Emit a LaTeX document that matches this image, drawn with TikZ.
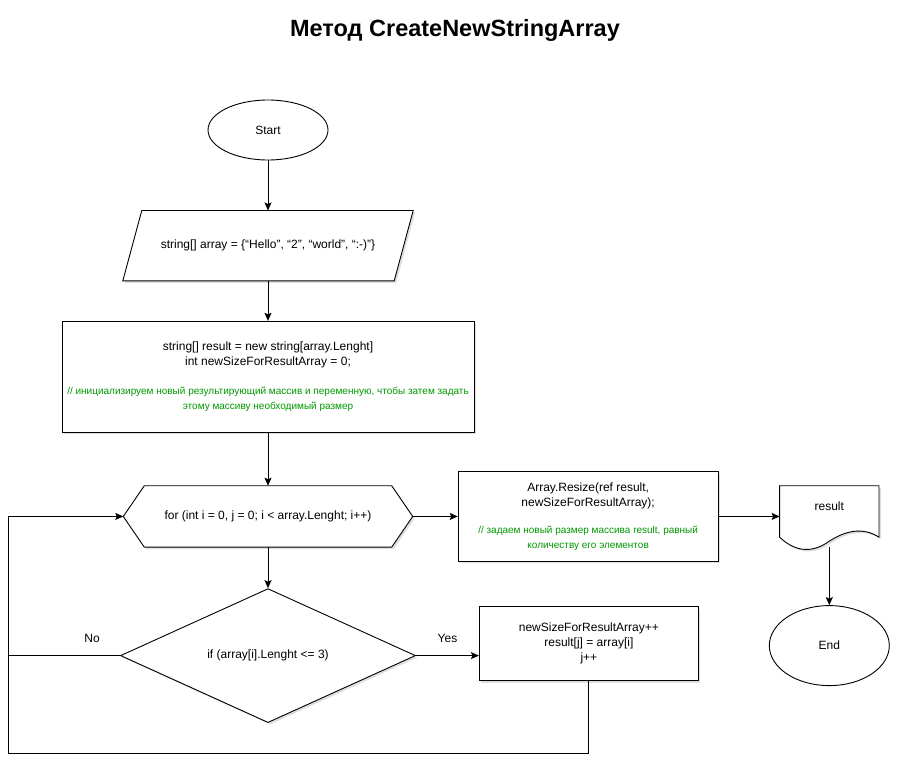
\documentclass[tikz,border=0pt]{standalone}
\usepackage{fontspec}
\setmainfont{Liberation Sans}
\usepackage{xcolor}
\usepackage{tikz}
\usetikzlibrary{positioning,shapes.geometric,shadows,arrows.meta,backgrounds}

\definecolor{notegreen}{RGB}{0,153,0}
\newcommand{\greennote}[1]{{\color{notegreen}\fontsize{10}{16}\selectfont #1}}

\tikzset{
  base/.style={inner sep=0pt, align=center, font=\fontsize{12}{15}\selectfont},
  softshadow/.style={drop shadow={opacity=.25, shadow xshift=2pt, shadow yshift=-2pt}},
  terminal/.style={base, draw, line width=0.9pt, ellipse, fill=white, minimum width=120pt},
  process/.style={base, draw, line width=0.9pt, rectangle, fill=white, softshadow},
  decision/.style={base, draw, line width=0.9pt, diamond, aspect=2.2, fill=white, softshadow},
  holder/.style={base},
  outline/.style={draw, line width=0.9pt, fill=white, softshadow},
  flow/.style={draw, line width=0.9pt, -{Stealth[length=8pt, width=7pt, inset=1.5pt]}},
  wire/.style={draw, line width=0.9pt},
}

\begin{document}
\begin{tikzpicture}[x=1pt, y=1pt]
		  \useasboundingbox (0,0) rectangle (899,-776) ; %
		  \node[font=\bfseries\fontsize{23.5}{27}\selectfont] (title) at (455,-30) {Метод CreateNewStringArray} ; %

		  \node[terminal, minimum height=60pt] (start) at (268,-130) {Start} ; %
		  \node[holder, below=50pt of start, minimum width=290pt, minimum height=70pt] (input)
		    {string[] array = \{“Hello”, “2”, “world”, “:-)”\}} ; %
		  \node[process, below=40pt of input, minimum width=412pt, minimum height=111pt] (init)
		    {string[] result = new string[array.Lenght]\\
		     int newSizeForResultArray = 0;\\[14pt]
		     \greennote{// инициализируем новый результирующий массив и переменную, чтобы затем задать}\\
		     \greennote{этому массиву необходимый размер}} ; %
		  \node[holder, below=53pt of init, minimum width=289pt, minimum height=61pt] (loop)
		    {for (int i = 0, j = 0; i < array.Lenght; i++)} ; %
		  \node[decision, below=41pt of loop, minimum width=295pt, minimum height=134pt] (cond)
		    {if (array[i].Lenght <= 3)} ; %
		  \node[process, right=63pt of cond, yshift=12pt, minimum width=219pt, minimum height=74pt] (assign)
		    {newSizeForResultArray++\\ result[j] = array[i]\\ j++} ; %
		  \node[process, right=45pt of loop, minimum width=260pt, minimum height=90pt] (resize)
		    {Array.Resize(ref result,\\ newSizeForResultArray);\\[12pt]
		     \greennote{// задаем новый размер массива result, равный}\\
		     \greennote{количеству его элементов}} ; %
		  \node[holder, right=61pt of resize, minimum width=99pt, minimum height=61pt] (out)
		    {\raisebox{20pt}{result}} ; %
		  \node[terminal, below=58pt of out, minimum height=80pt] (stop) {End} ; %
		  \coordinate (rail) at (8,-753) ; %

		  % outlines of the non-standard blocks
		  \begin{scope}[on background layer]
		    \path[outline] ([xshift=19pt]input.north west) -- (input.north east)
		      -- ([xshift=-19pt]input.south east) -- (input.south west) -- cycle ; %
		    \path[outline] ([xshift=21pt]loop.north west) -- ([xshift=-21pt]loop.north east)
		      -- (loop.east) -- ([xshift=-21pt]loop.south east)
		      -- ([xshift=21pt]loop.south west) -- (loop.west) -- cycle ; %
		    \path[outline] (out.north west) -- (out.north east) -- ([yshift=10pt]out.south east)
		      .. controls ([shift={(34,20)}]out.south) and ([shift={(17,17)}]out.south) .. ([shift={(0,6)}]out.south)
		      .. controls ([shift={(-18,-7)}]out.south) and ([shift={(-35,-4)}]out.south) .. ([yshift=10pt]out.south west)
		      -- cycle ; %
		  \end{scope}

		  \path[flow] (start) -- (input) ; %
		  \path[flow] (input) -- (init) ; %
		  \path[flow] (init) -- (loop) ; %
		  \path[flow] (loop) -- (cond) ; %
		  \path[flow] (loop) -- (resize) ; %
		  \path[flow] (resize) -- (out) ; %
		  \path[flow] (out.south) -- (stop) ; %
		  \path[flow] (cond.east) -- (cond.east -| assign.west)
		    node[base, midway, above=13pt] {Yes} ; %
		  \path[wire] (cond.west) -- (cond.west -| rail)
		    node[base, pos=.25, above=13pt] {No} ; %
		  \path[flow] (assign.south) |- (rail) |- (loop.west) ; %
\end{tikzpicture}
\end{document}
